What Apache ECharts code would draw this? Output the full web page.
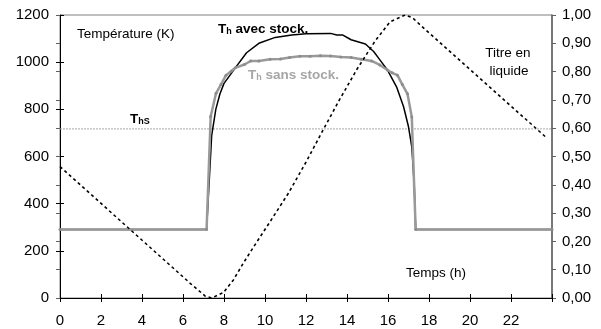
<!DOCTYPE html>
<html><head><meta charset="utf-8">
<script src="https://cdn.jsdelivr.net/npm/echarts@6/dist/echarts.min.js"></script>
<style>html,body{margin:0;padding:0;background:#fff}#c{width:601px;height:329px}</style>
</head><body><div id="c"></div>
<script>
// ---- data ----
const xTicks = [0,2,4,6,8,10,12,14,16,18,20,22,24];
const tAvec = [0,7.15,7.4,7.6,7.8,8.0,8.25,8.55,9.1,9.7,10.5,11.3,12.0,13.2,13.5,13.8,14.2,14.9,15.3,15.55,15.97,16.43,16.76,17.0,17.16,17.28,17.35,24];
const vAvec = [290,290,690,800,865,910,940,976,1040,1080,1105,1115,1120,1122,1115,1115,1095,1077,1045,1016,967,893,811,726,641,480,290,290];
const tSans = [0,7.15,7.35,7.61,7.85,8.1,8.35,8.55,9.0,9.3,9.7,10.25,10.75,11.2,11.7,12.2,12.7,13.2,13.7,14.2,14.7,15.2,15.6,15.97,16.2,16.46,16.7,16.95,17.16,17.35,24];
const vSans = [290,290,770,868,905,945,962,976,990,1005,1005,1012,1013,1020,1025,1025,1027,1026,1022,1020,1012,1005,988,967,955,945,905,866,768,290,290];
const tTitre = [0,6.35,7.08,7.4,7.97,8.46,8.94,9.43,10.25,11.14,12.0,12.88,13.63,14.5,15.37,16.1,16.84,17.2,17.57,23.72];
const vTitre = [0.464,0.052,0.007,0,0.019,0.064,0.123,0.179,0.27,0.37,0.48,0.60,0.70,0.81,0.908,0.976,1.0,0.99,0.965,0.567];
const thsValue = 717;
const thsSpan = [0,24];

const pairs = (ts, vs) => ts.map((t,i)=>[t, vs[i]]);
const FF = 'Liberation Sans, Arial, sans-serif';
const chart = echarts.init(document.getElementById('c'), null, {renderer:'canvas'});

const lbl = {fontFamily: FF, fontSize: 15, color: '#000'};
const txt = (x, y, text, opts) => ({type:'text', x, y, style: Object.assign({text, fontFamily: FF, fontSize: 13.5, fill:'#000', align:'left', verticalAlign:'middle'}, opts||{})});
const subRich = (color) => ({
  a:{fontSize:13.5, fontWeight:'bold', fontFamily:FF, fill:color, verticalAlign:'bottom', lineHeight:16},
  b:{fontSize:9, fontWeight:'bold', fontFamily:FF, fill:color, verticalAlign:'bottom', lineHeight:5}
});

chart.setOption({
  animation: false,
  grid: {left:60, right:49, top:15, bottom:31, show:true, borderColor:'#808080', borderWidth:1},
  xAxis: [
    {type:'value', min:0, max:24, interval:2, position:'bottom',
     axisLine:{show:true, onZero:false, lineStyle:{color:'#000', width:1}},
     axisTick:{show:true, inside:false, length:4, lineStyle:{color:'#000'}},
     axisLabel:Object.assign({margin:15, formatter:v=> v===24?'':String(v)}, lbl),
     splitLine:{show:false}},
    {type:'value', min:0, max:24, interval:2, position:'bottom',
     axisLine:{show:false, onZero:false},
     axisTick:{show:true, inside:true, length:4, lineStyle:{color:'#000'}},
     axisLabel:{show:false}, splitLine:{show:false}}
  ],
  yAxis: [
    {type:'value', min:0, max:1200, interval:200, position:'left',
     axisLine:{show:true, onZero:false, lineStyle:{color:'#000', width:1}},
     axisTick:{show:true, inside:false, length:4, lineStyle:{color:'#000'}},
     axisLabel:Object.assign({margin:11, formatter:v=>String(v)}, lbl), splitLine:{show:false}},
    {type:'value', min:0, max:1, interval:0.1, position:'right',
     axisLine:{show:true, onZero:false, lineStyle:{color:'#606060', width:1.5}},
     axisTick:{show:true, inside:false, length:4, lineStyle:{color:'#606060'}},
     axisLabel:Object.assign({margin:10, formatter:v=>v.toFixed(2).replace('.',',')}, lbl), splitLine:{show:false}},
    {type:'value', min:0, max:1200, interval:200, position:'left',
     axisLine:{show:false}, axisTick:{show:true, inside:true, length:4, lineStyle:{color:'#000'}},
     axisLabel:{show:false}, splitLine:{show:false}},
    {type:'value', min:0, max:1, interval:0.1, position:'right',
     axisLine:{show:false}, axisTick:{show:true, inside:true, length:4, lineStyle:{color:'#606060'}},
     axisLabel:{show:false}, splitLine:{show:false}}
  ],
  series: [
    {name:'Ths', type:'line', data: thsSpan.map(t=>[t, thsValue]), symbol:'none', silent:true,
     lineStyle:{color:'#a8a8a8', width:1, type:[2,1]}},
    {name:'Th avec stock', type:'line', data: pairs(tAvec, vAvec), symbol:'none',
     lineStyle:{color:'#000', width:1.5}},
    {name:'Th sans stock', type:'line', data: pairs(tSans, vSans), symbol:'circle', symbolSize:3, showSymbol:true,
     itemStyle:{color:'#8c8c8c'}, lineStyle:{color:'#999', width:2.5}},
    {name:'Titre', type:'line', yAxisIndex:1, data: pairs(tTitre, vTitre), symbol:'none',
     lineStyle:{color:'#000', width:1.6, type:[3,3]}}
  ],
  graphic: [
    txt(77, 34, 'Température (K)'),
    txt(406, 273, 'Temps (h)'),
    txt(508, 53, 'Titre en', {align:'center'}),
    txt(509, 71, 'liquide', {align:'center'}),
    {type:'text', x:218, y:20, style:{text:'{a|T}{b|h}{a| avec stock.}', rich: subRich('#000'), verticalAlign:'top'}},
    {type:'text', x:248, y:66, style:{text:'{a|T}{b|h}{a| sans stock.}', rich: subRich('#a6a6a6'), verticalAlign:'top'}},
    {type:'text', x:130, y:110, style:{text:'{a|T}{b|hS}', rich: subRich('#000'), verticalAlign:'top'}}
  ]
});
</script></body></html>
